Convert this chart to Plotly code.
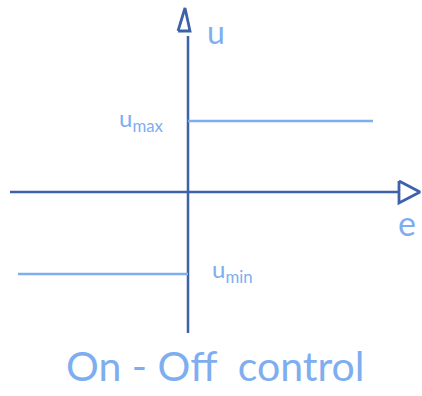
import plotly.graph_objects as go

# Data (arbitrary units, e horizontal, u vertical)
u_max = 71
u_min = -82
e_on = [0, 185]          # e > 0 -> u = u_max
e_off = [-170, 0]        # e < 0 -> u = u_min
e_axis = [-178, 210]
u_axis = [-141, 156]
labels = {"u": "u", "e": "e", "umax": "u<sub>max</sub>", "umin": "u<sub>min</sub>"}
title_text = "On - Off  control"

DARK = "#3d62aa"
LIGHT = "#7eaef0"

fig = go.Figure()

# axes
fig.add_trace(go.Scatter(x=e_axis, y=[0, 0], mode="lines",
                         line=dict(color=DARK, width=2.5), hoverinfo="skip"))
fig.add_trace(go.Scatter(x=[0, 0], y=u_axis, mode="lines",
                         line=dict(color=DARK, width=2.5), hoverinfo="skip"))
# arrow heads (outlined triangles)
fig.add_trace(go.Scatter(x=[211, 211, 232, 211], y=[11, -11, 0, 11], mode="lines",
                         line=dict(color=DARK, width=2.8), hoverinfo="skip"))
fig.add_trace(go.Scatter(x=[-10, 2, -3, -10], y=[161, 161, 184, 161], mode="lines",
                         line=dict(color=DARK, width=2.8), hoverinfo="skip"))

# on/off characteristic
fig.add_trace(go.Scatter(x=e_on, y=[u_max, u_max], mode="lines",
                         line=dict(color=LIGHT, width=2.5), hoverinfo="skip"))
fig.add_trace(go.Scatter(x=e_off, y=[u_min, u_min], mode="lines",
                         line=dict(color=LIGHT, width=2.5), hoverinfo="skip"))

font = "Lato"
fig.add_annotation(x=28, y=161, text=labels["u"], showarrow=False,
                   font=dict(family=font, size=32, color=LIGHT))
fig.add_annotation(x=219, y=-30, text=labels["e"], showarrow=False,
                   font=dict(family=font, size=34, color=LIGHT))
fig.add_annotation(x=-47, y=u_max + 2, text=labels["umax"], showarrow=False,
                   font=dict(family=font, size=24, color=LIGHT))
fig.add_annotation(x=44, y=u_min + 4, text=labels["umin"], showarrow=False,
                   font=dict(family=font, size=24, color=LIGHT))
fig.add_annotation(x=27, y=-173, text=title_text, showarrow=False,
                   font=dict(family=font, size=41, color=LIGHT))

fig.update_layout(
    width=422, height=396,
    margin=dict(l=0, r=0, t=0, b=0),
    paper_bgcolor="white", plot_bgcolor="white",
    showlegend=False,
    xaxis=dict(range=[-188, 234], visible=False, fixedrange=True),
    yaxis=dict(range=[-204, 192], visible=False, fixedrange=True),
)

fig.write_html("out.html", config={"displayModeBar": False},
               post_script="document.body.style.margin='0';document.body.style.overflow='hidden';")
